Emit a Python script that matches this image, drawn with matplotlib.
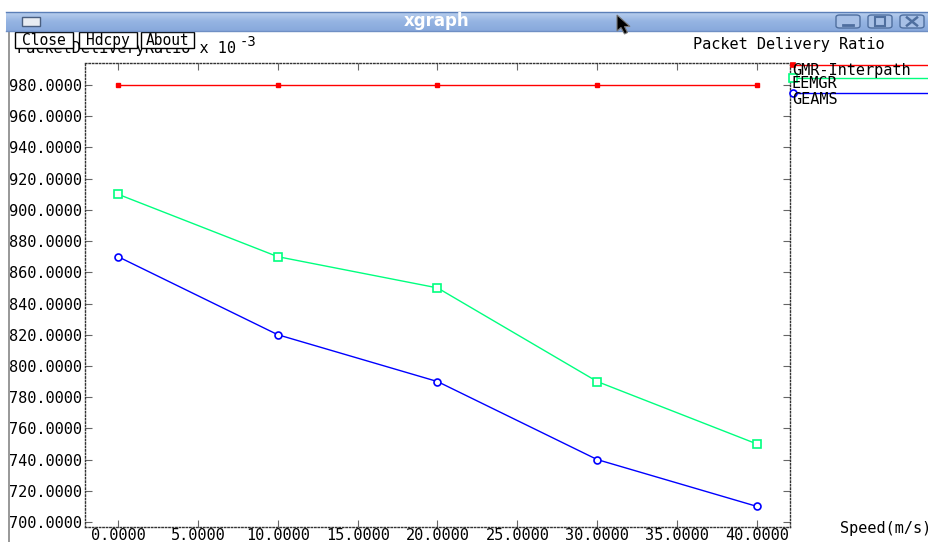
import matplotlib
matplotlib.use("Agg")
import matplotlib.pyplot as plt
import numpy as np
from matplotlib.lines import Line2D
from matplotlib.patches import Rectangle, Polygon, FancyBboxPatch

# Packet delivery ratio (x 10^-3) against node speed
speed = [0, 10, 20, 30, 40]
gmr_interpath = [980, 980, 980, 980, 980]
eemgr = [910, 870, 850, 790, 750]
geams = [870, 820, 790, 740, 710]

series_names = ["GMR-Interpath", "EEMGR", "GEAMS"]
series_colors = ["#ff0000", "#00ff7f", "#0000ff"]
yticks = np.arange(700, 1000, 20)
xticks = np.arange(0, 45, 5)

W, H = 929, 542
MONO = "DejaVu Sans Mono"
FS = 11


def fx(px):
    return px / W


def fy(py):
    return 1 - py / H


fig = plt.figure(figsize=(W / 100, H / 100), dpi=100)
fig.patch.set_facecolor("white")

# plot area
ax = fig.add_axes([fx(85), fy(527), fx(790) - fx(85), fy(63) - fy(527)])
ax.plot(speed, gmr_interpath, color=series_colors[0], lw=1, marker="s",
        ms=3.5, mfc=series_colors[0], mec=series_colors[0])
ax.plot(speed, eemgr, color=series_colors[1], lw=1, marker="s",
        ms=6, mfc="white", mec=series_colors[1], mew=1.2)
ax.plot(speed, geams, color=series_colors[2], lw=1, marker="o",
        ms=5, mfc="white", mec=series_colors[2], mew=1.2)

ax.set_xlim(-2.07, 42.07)
ax.set_ylim(696.8, 994.1)
ax.set_xticks(xticks)
ax.set_yticks(yticks)
ax.set_xticklabels([f"{v:.4f}" for v in xticks], family=MONO, fontsize=FS)
ax.set_yticklabels([f"{v:.4f}" for v in yticks], family=MONO, fontsize=FS)
ax.tick_params(direction="in", length=5, width=0.8, color="#666666",
               top=True, right=True)
ax.tick_params(axis="x", pad=0.5)
ax.tick_params(axis="y", pad=2)
for sp in ax.spines.values():
    sp.set_linestyle((0, (1, 1.5)))
    sp.set_linewidth(1)
    sp.set_color("#333333")

# legend on the right: line on top, name underneath
leg_y = [64.5, 78, 93]
markers = [("s", 3.5, None), ("s", 6, "white"), ("o", 5, "white")]
for name, col, ly, (mk, ms, fc) in zip(series_names, series_colors, leg_y, markers):
    fig.add_artist(Line2D([fx(790), fx(929)], [fy(ly), fy(ly)], color=col, lw=1))
    fig.add_artist(Line2D([fx(793)], [fy(ly)], marker=mk, ms=ms, color=col,
                          mfc=fc if fc else col, mec=col, mew=1.2))
    fig.text(fx(792), fy(ly + 6), name, family=MONO, fontsize=FS,
             va="center", ha="left")

# titles and axis labels
fig.text(fx(693), fy(44), "Packet Delivery Ratio", family=MONO, fontsize=FS,
         va="center", ha="left")
fig.text(fx(17), fy(53), "PacketDeliveryRatio x 10", family=MONO, fontsize=FS,
         va="baseline", ha="left")
fig.text(fx(240), fy(46), "-3", family=MONO, fontsize=FS - 1,
         va="baseline", ha="left")
fig.text(fx(840), fy(528), "Speed(m/s)", family=MONO, fontsize=FS,
         va="center", ha="left")

# xgraph buttons
for label, x0, x1 in [("Close", 15, 73), ("Hdcpy", 79, 137), ("About", 141, 194)]:
    fig.add_artist(Rectangle((fx(x0), fy(48)), fx(x1) - fx(x0), fy(32) - fy(48),
                             facecolor="white", edgecolor="black", lw=1, zorder=5))
    fig.text(fx((x0 + x1) / 2), fy(40.5), label, family=MONO, fontsize=FS - 0.5,
             va="center", ha="center", zorder=6)

# window frame: white margin and grey left border
fig.add_artist(Rectangle((0, 0), fx(8), 1, facecolor="white", edgecolor="none", zorder=8))
fig.add_artist(Rectangle((fx(8), 0), fx(2), fy(30), facecolor="#9a9a9a",
                         edgecolor="none", zorder=8))
fig.add_artist(Rectangle((0, fy(12)), 1, 1 - fy(12), facecolor="white",
                         edgecolor="none", zorder=8))

# title bar with vertical gradient
bar = fig.add_axes([fx(6), fy(31), 1 - fx(6), fy(12) - fy(31)], zorder=9)
grad = np.linspace(0, 1, 50).reshape(-1, 1)
bar.imshow(grad, aspect="auto", cmap=matplotlib.colors.LinearSegmentedColormap.from_list(
    "tb", ["#b9cfee", "#95b4e2", "#88a9dc"]), extent=(0, 1, 0, 1), origin="upper")
bar.set_xlim(0, 1)
bar.set_ylim(0, 1)
bar.axis("off")
fig.add_artist(Line2D([fx(6), 1], [fy(12), fy(12)], color="#5b7fb8", lw=1, zorder=10))
fig.add_artist(Line2D([fx(6), 1], [fy(30.5), fy(30.5)], color="#6f8fc4", lw=1, zorder=10))
fig.text(fx(437), fy(21), "xgraph", color="white", fontsize=12, fontweight="bold",
         family="DejaVu Sans", ha="center", va="center", zorder=11)

# window menu icon
fig.add_artist(Rectangle((fx(22), fy(26)), fx(18), fy(17) - fy(26),
                         facecolor="#e8ecf2", edgecolor="#4a5f80", lw=1, zorder=11))

# minimise / maximise / close buttons
for i, x0 in enumerate([836, 868, 900]):
    fig.add_artist(FancyBboxPatch((fx(x0), fy(28)), fx(24), fy(15) - fy(28),
                                  boxstyle="round,pad=0,rounding_size=0.004",
                                  facecolor="#a7c0e6", edgecolor="#4f6f9f", lw=1, zorder=11))
    cx, cy = x0 + 12, 21.5
    if i == 0:
        fig.add_artist(Line2D([fx(cx - 5), fx(cx + 5)], [fy(cy + 3), fy(cy + 3)],
                              color="#4f6f9f", lw=2, zorder=12))
    elif i == 1:
        fig.add_artist(Rectangle((fx(cx - 5), fy(cy + 4)), fx(10), fy(cy - 4) - fy(cy + 4),
                                 facecolor="none", edgecolor="#4f6f9f", lw=1.5, zorder=12))
    else:
        fig.add_artist(Line2D([fx(cx - 5), fx(cx + 5)], [fy(cy - 4), fy(cy + 4)],
                              color="#4f6f9f", lw=1.8, zorder=12))
        fig.add_artist(Line2D([fx(cx - 5), fx(cx + 5)], [fy(cy + 4), fy(cy - 4)],
                              color="#4f6f9f", lw=1.8, zorder=12))

# mouse pointer
arrow = [(617, 15), (617, 31), (621, 27.5), (624.5, 34), (627.5, 32.5),
         (624.5, 26.5), (630, 26.5)]
fig.add_artist(Polygon([(fx(x), fy(y)) for x, y in arrow], closed=True,
                       facecolor="black", edgecolor="#777777", lw=0.8, zorder=12))

fig.savefig("out.png", dpi=100)
